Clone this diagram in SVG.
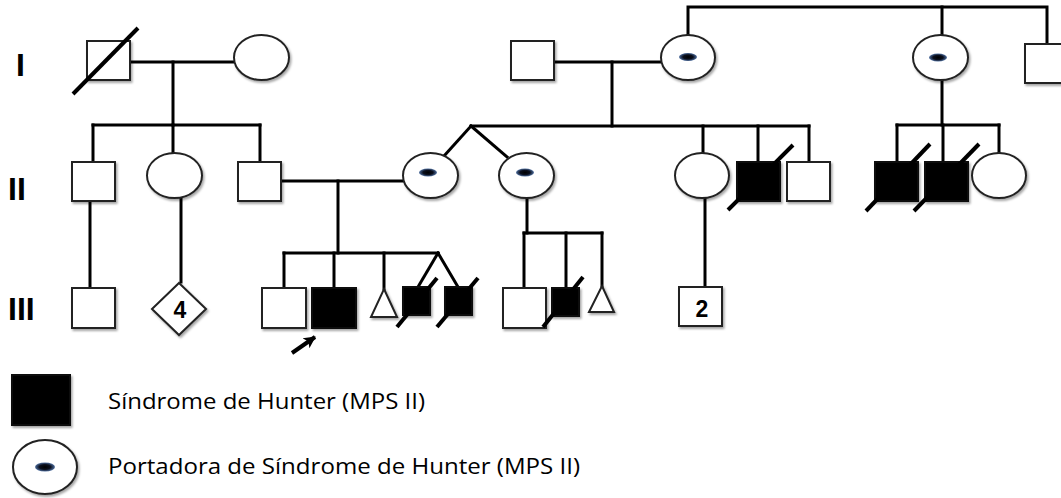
<svg xmlns="http://www.w3.org/2000/svg" width="1061" height="498" viewBox="0 0 1061 498">
<style>
.ln{stroke:#000;stroke-width:3;fill:none;stroke-linecap:square}
.sq{fill:#fff;stroke:#222;stroke-width:2}
.aff{fill:#000;stroke:#111;stroke-width:2}
.ci{fill:#fff;stroke:#222;stroke-width:2}
.sl{stroke:#000;stroke-width:4;stroke-linecap:butt}
.gen{font-family:"Liberation Sans",Arial,sans-serif;font-weight:bold;font-size:32px;fill:#000}
.num{font-family:"Liberation Sans",Arial,sans-serif;font-weight:bold;font-size:23px;fill:#000;text-anchor:middle}
.leg{font-family:"Open Sans","Liberation Sans",sans-serif;font-size:22px;fill:#000}
</style>
<defs>
<filter id="sh" x="-20%" y="-20%" width="150%" height="150%">
<feDropShadow dx="1.5" dy="2" stdDeviation="1.2" flood-color="#000" flood-opacity="0.35"/>
</filter>
<radialGradient id="dot" cx="0.5" cy="0.5" r="0.5">
<stop offset="0" stop-color="#000"/>
<stop offset="0.55" stop-color="#0a0f1e"/>
<stop offset="1" stop-color="#4f6f9f"/>
</radialGradient>
<marker id="ah" markerWidth="14" markerHeight="14" refX="11" refY="7" orient="auto" markerUnits="userSpaceOnUse">
<path d="M0,1 L12,7 L0,13 L3,7 Z" fill="#000"/>
</marker>
</defs>
<rect width="1061" height="498" fill="#fff"/>

<g id="gen-labels">
<text class="gen" x="16" y="76">I</text>
<text class="gen" x="8" y="200">II</text>
<text class="gen" x="8" y="320">III</text>
</g>

<g id="connectors">
<polyline class="ln" points="130,62 236,62"/>
<polyline class="ln" points="173,62 173,125"/>
<polyline class="ln" points="93,125 260,125"/>
<polyline class="ln" points="93,125 93,162"/>
<polyline class="ln" points="173,125 173,153"/>
<polyline class="ln" points="260,125 260,162"/>
<polyline class="ln" points="688,35 688,7 1047,7 1047,44"/>
<polyline class="ln" points="942,7 942,35"/>
<polyline class="ln" points="554,62 661,62"/>
<polyline class="ln" points="612,62 612,126"/>
<polyline class="ln" points="471,126 809,126"/>
<polyline class="ln" points="471,126 445,155"/>
<polyline class="ln" points="471,126 507,157"/>
<polyline class="ln" points="703,126 703,153"/>
<polyline class="ln" points="758,126 758,162"/>
<polyline class="ln" points="809,126 809,162"/>
<polyline class="ln" points="942,80 942,125"/>
<polyline class="ln" points="897,125 999,125"/>
<polyline class="ln" points="897,125 897,162"/>
<polyline class="ln" points="943,125 943,162"/>
<polyline class="ln" points="999,125 999,153"/>
<polyline class="ln" points="90,201 90,288"/>
<polyline class="ln" points="181,198 181,282"/>
<polyline class="ln" points="281,181 403,181"/>
<polyline class="ln" points="338,181 338,253"/>
<polyline class="ln" points="284,253 438,253"/>
<polyline class="ln" points="284,253 284,288"/>
<polyline class="ln" points="334,253 334,288"/>
<polyline class="ln" points="384,253 384,289"/>
<polyline class="ln" points="438,253 418,287"/>
<polyline class="ln" points="438,253 458,287"/>
<polyline class="ln" points="527,198 527,233"/>
<polyline class="ln" points="524,233 602,233"/>
<polyline class="ln" points="524,233 524,288"/>
<polyline class="ln" points="566,233 566,288"/>
<polyline class="ln" points="602,233 602,286"/>
<polyline class="ln" points="705,198 705,287"/>
</g>

<g id="I-1"><rect class="sq" x="87" y="41" width="43" height="39" filter="url(#sh)"/><line class="sl" x1="73" y1="94" x2="138" y2="28"/></g>
<g id="I-2"><ellipse class="ci" cx="261.5" cy="57.5" rx="27.5" ry="22.5" filter="url(#sh)"/></g>
<g id="I-3"><rect class="sq" x="511" y="41" width="43" height="39" filter="url(#sh)"/></g>
<g id="I-4"><ellipse class="ci" cx="688" cy="57.5" rx="27" ry="22.5" filter="url(#sh)"/><ellipse cx="688" cy="57" rx="9" ry="4" fill="url(#dot)"/></g>
<g id="I-5"><ellipse class="ci" cx="940.5" cy="57.5" rx="27.5" ry="22.5" filter="url(#sh)"/><ellipse cx="938" cy="57.5" rx="9" ry="4" fill="url(#dot)"/></g>
<g id="I-6"><rect class="sq" x="1025" y="44" width="43" height="39" filter="url(#sh)"/></g>

<g id="II-1"><rect class="sq" x="72" y="162" width="43" height="39" filter="url(#sh)"/></g>
<g id="II-2"><ellipse class="ci" cx="174.5" cy="175.5" rx="27.5" ry="22.5" filter="url(#sh)"/></g>
<g id="II-3"><rect class="sq" x="238" y="162" width="43" height="39" filter="url(#sh)"/></g>
<g id="II-4"><ellipse class="ci" cx="430.5" cy="175.5" rx="27.5" ry="22.5" filter="url(#sh)"/><ellipse cx="428" cy="172.5" rx="9" ry="4" fill="url(#dot)"/></g>
<g id="II-5"><ellipse class="ci" cx="526.5" cy="175.5" rx="27.5" ry="22.5" filter="url(#sh)"/><ellipse cx="525" cy="172.5" rx="9" ry="4" fill="url(#dot)"/></g>
<g id="II-6"><ellipse class="ci" cx="702" cy="175.5" rx="27" ry="22.5" filter="url(#sh)"/></g>
<g id="II-7"><rect class="aff" x="737" y="162" width="43" height="39" filter="url(#sh)"/><line class="sl" x1="728" y1="210" x2="793" y2="145"/></g>
<g id="II-8"><rect class="sq" x="787" y="162" width="43" height="39" filter="url(#sh)"/></g>
<g id="II-9"><rect class="aff" x="875" y="162" width="43" height="39" filter="url(#sh)"/><line class="sl" x1="866" y1="211" x2="930" y2="144"/></g>
<g id="II-10"><rect class="aff" x="925" y="162" width="43" height="39" filter="url(#sh)"/><line class="sl" x1="914" y1="211" x2="979" y2="144"/></g>
<g id="II-11"><ellipse class="ci" cx="999" cy="175.5" rx="27" ry="22.5" filter="url(#sh)"/></g>

<g id="III-1"><rect class="sq" x="72" y="288" width="43" height="40" filter="url(#sh)"/></g>
<g id="III-2"><polygon class="sq" points="179,283 206,309 179,335 152,309" filter="url(#sh)"/><text class="num" x="180" y="318">4</text></g>
<g id="III-3"><rect class="sq" x="262" y="288" width="44" height="40" filter="url(#sh)"/></g>
<g id="III-4"><rect class="aff" x="312" y="288" width="44" height="40" filter="url(#sh)"/></g>
<g id="III-5"><polygon class="sq" points="384,289 397,317 371,317" filter="url(#sh)"/></g>
<g id="III-6"><rect class="aff" x="403" y="287" width="27" height="28" filter="url(#sh)"/><line class="sl" x1="397" y1="327" x2="437" y2="278"/></g>
<g id="III-7"><rect class="aff" x="445" y="287" width="27" height="28" filter="url(#sh)"/><line class="sl" x1="437" y1="327" x2="478" y2="278"/></g>
<g id="III-8"><rect class="sq" x="503" y="288" width="43" height="40" filter="url(#sh)"/></g>
<g id="III-9"><rect class="aff" x="552" y="288" width="27" height="28" filter="url(#sh)"/><line class="sl" x1="543" y1="327" x2="583" y2="277"/></g>
<g id="III-10"><polygon class="sq" points="602,286 614,312 589,312" filter="url(#sh)"/></g>
<g id="III-11"><rect class="sq" x="679" y="287" width="43" height="39" filter="url(#sh)"/><text class="num" x="702" y="317">2</text></g>

<g id="proband-arrow"><line x1="292" y1="353" x2="315" y2="337" stroke="#000" stroke-width="4" marker-end="url(#ah)"/></g>

<g id="legend">
<rect class="aff" x="12" y="375" width="58" height="50" filter="url(#sh)"/>
<text class="leg" x="108" y="409" textLength="317" lengthAdjust="spacingAndGlyphs">Síndrome de Hunter (MPS II)</text>
<ellipse class="ci" cx="45" cy="467" rx="32" ry="27" filter="url(#sh)"/>
<ellipse cx="45" cy="467" rx="10" ry="4.5" fill="url(#dot)"/>
<text class="leg" x="108" y="474" textLength="472" lengthAdjust="spacingAndGlyphs">Portadora de Síndrome de Hunter (MPS II)</text>
</g>
</svg>
